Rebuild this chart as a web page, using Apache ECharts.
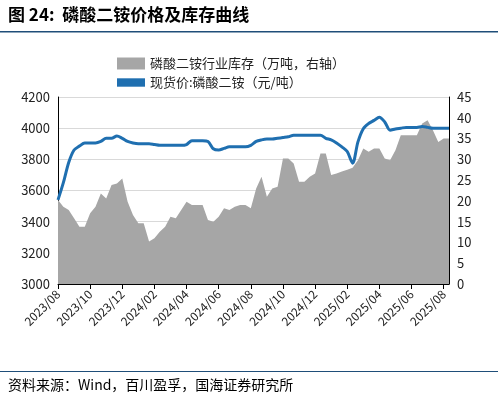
<!DOCTYPE html>
<html><head><meta charset="utf-8">
<script src="https://cdn.jsdelivr.net/npm/echarts@6/dist/echarts.min.js"></script>
<style>body{margin:0;background:#fff}#c{width:498px;height:407px}</style></head>
<body><div id="c"></div>
<script>
const tickLabels=['2023/08','2023/10','2023/12','2024/02','2024/04','2024/06','2024/08','2024/10','2024/12','2025/02','2025/04','2025/06','2025/08'];
const price=[3540,3650,3780,3860,3885,3905,3905,3905,3915,3935,3935,3950,3935,3915,3905,3900,3900,3900,3895,3890,3890,3890,3890,3890,3895,3920,3920,3920,3915,3868,3860,3870,3880,3880,3880,3880,3890,3915,3925,3930,3930,3935,3940,3945,3955,3955,3955,3955,3955,3955,3935,3925,3905,3880,3850,3775,3912,3997,4030,4050,4070,4040,3987,3995,4000,4005,4005,4005,4010,4005,4000,4000,4000,4000];
const stock=[20.2,18.6,17.8,15.8,13.8,13.8,17,18.6,21.8,20.6,23.8,24.2,25.4,19.8,16.6,14.6,14.6,10.2,11,12.6,13.8,16.2,15.8,17.8,19.8,19,19,19,15.4,15,16.2,18.2,17.8,18.6,19,19,18.2,23,25.8,21,23,23.4,30.2,30.2,29,24.6,24.6,25.8,26.6,31.4,31.4,26.2,26.6,27.1,27.5,28,29.8,32.6,31.8,32.6,32.6,30.2,29.8,32.2,35.8,35.8,35.8,35.8,38.6,39.4,37,34.2,35,35];
const cats=price.map((v,i)=>{const m=7+Math.floor(i/3);const y=2023+Math.floor(m/12);return y+'/'+String(m%12+1).padStart(2,'0')+'-'+(i%3);});
const ch=echarts.init(document.getElementById('c'));
const F='"Noto Sans CJK SC",sans-serif';
ch.setOption({
 animation:false,
 graphic:[
  {type:'text',left:8,top:6,style:{text:'图 24:  磷酸二铵价格及库存曲线',font:'bold 17px '+F,fill:'#000'}},
  {type:'rect',shape:{x:0,y:31,width:498,height:1.5},style:{fill:'#1f4e79'}},
  {type:'rect',shape:{x:0,y:371,width:498,height:1},style:{fill:'#1f4e79'}},
  {type:'text',left:8,top:378,style:{text:'资料来源：Wind，百川盈孚，国海证券研究所',font:'14px '+F,fill:'#000'}}
 ],
 legend:{orient:'vertical',left:112,top:52,itemGap:6,itemWidth:28,itemHeight:12,textStyle:{fontFamily:F,fontSize:13,color:'#222'},
  data:[{name:'磷酸二铵行业库存（万吨，右轴）',icon:'rect'},{name:'现货价:磷酸二铵（元/吨）',icon:'path://M0,0H10V3H0Z',itemStyle:{color:'#1f6fb0'}}]},
 grid:{left:58,right:49,top:97,bottom:123},
 xAxis:{type:'category',data:cats,boundaryGap:false,
  axisLine:{lineStyle:{color:'#000'}},axisTick:{interval:5,lineStyle:{color:'#000'}},
  axisLabel:{interval:5,rotate:45,fontFamily:F,fontSize:12,color:'#222',formatter:(v,i)=>tickLabels[i/6]||''}},
 yAxis:[{type:'value',min:3000,max:4200,interval:200,axisLine:{show:true,lineStyle:{color:'#000'}},axisTick:{show:false},
   axisLabel:{fontFamily:F,fontSize:13,color:'#222',formatter:v=>String(v)},splitLine:{lineStyle:{color:'#d9d9d9'}}},
  {type:'value',min:0,max:45,interval:5,axisLine:{show:true,lineStyle:{color:'#000'}},axisTick:{show:false},
   axisLabel:{fontFamily:F,fontSize:13,color:'#222'},splitLine:{show:false}}],
 series:[
  {name:'磷酸二铵行业库存（万吨，右轴）',type:'line',yAxisIndex:1,data:stock,symbol:'none',lineStyle:{width:0},itemStyle:{color:'#a6a6a6'},areaStyle:{color:'#a6a6a6',opacity:1}},
  {name:'现货价:磷酸二铵（元/吨）',type:'line',yAxisIndex:0,data:price,symbol:'none',smooth:0.3,lineStyle:{width:3,color:'#1f6fb0'},itemStyle:{color:'#1f6fb0'}}
 ]
});
</script></body></html>
